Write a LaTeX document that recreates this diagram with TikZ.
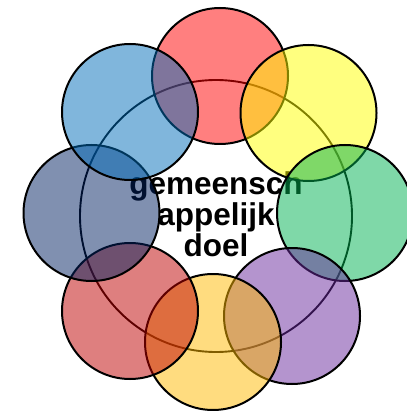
\documentclass[tikz,border=0pt]{standalone}
\usepackage{fontspec}
\setmainfont{Liberation Sans}
\usepackage{xcolor}
\definecolor{petalred}{RGB}{255,0,0}
\definecolor{petalyellow}{RGB}{255,255,0}
\definecolor{petalgreen}{RGB}{0,177,81}
\definecolor{petalpurple}{RGB}{105,41,157}
\definecolor{petalgold}{RGB}{255,185,0}
\definecolor{petaldarkred}{RGB}{189,0,0}
\definecolor{petalslate}{RGB}{1,33,97}
\definecolor{petalblue}{RGB}{1,109,185}

\begin{document}
\begin{tikzpicture}[
    x=1pt, y=-1pt,
    ring/.style={circle, draw=black, line width=1.9pt, minimum size=272pt, inner sep=0pt},
    petal/.style={circle, draw=black, line width=2pt, minimum size=136pt, inner sep=0pt, fill opacity=0.5, draw opacity=1}
]
    \useasboundingbox (0,0) rectangle (406,411);

    \node[ring] (goal) at (216,216) {};
    \node[font=\bfseries\fontsize{31.5}{31}\selectfont, align=center] (goaltext) at (216,214.5) {gemeensch\\appelijk\\doel};

    % petals, clockwise from the top
    \node[petal, fill=petalred] (red) at (220,76) {};
    \node[petal, fill=petalyellow] (yellow) at (308.5,113) {};
    \node[petal, fill=petalgreen] (green) at (345,213) {};
    \node[petal, fill=petalpurple] (purple) at (292,316) {};
    \node[petal, fill=petalgold] (gold) at (213,342) {};
    \node[petal, fill=petaldarkred] (darkred) at (130,311) {};
    \node[petal, fill=petalslate] (slate) at (91.5,213) {};
    \node[petal, fill=petalblue] (blue) at (130,112) {};
\end{tikzpicture}
\end{document}
